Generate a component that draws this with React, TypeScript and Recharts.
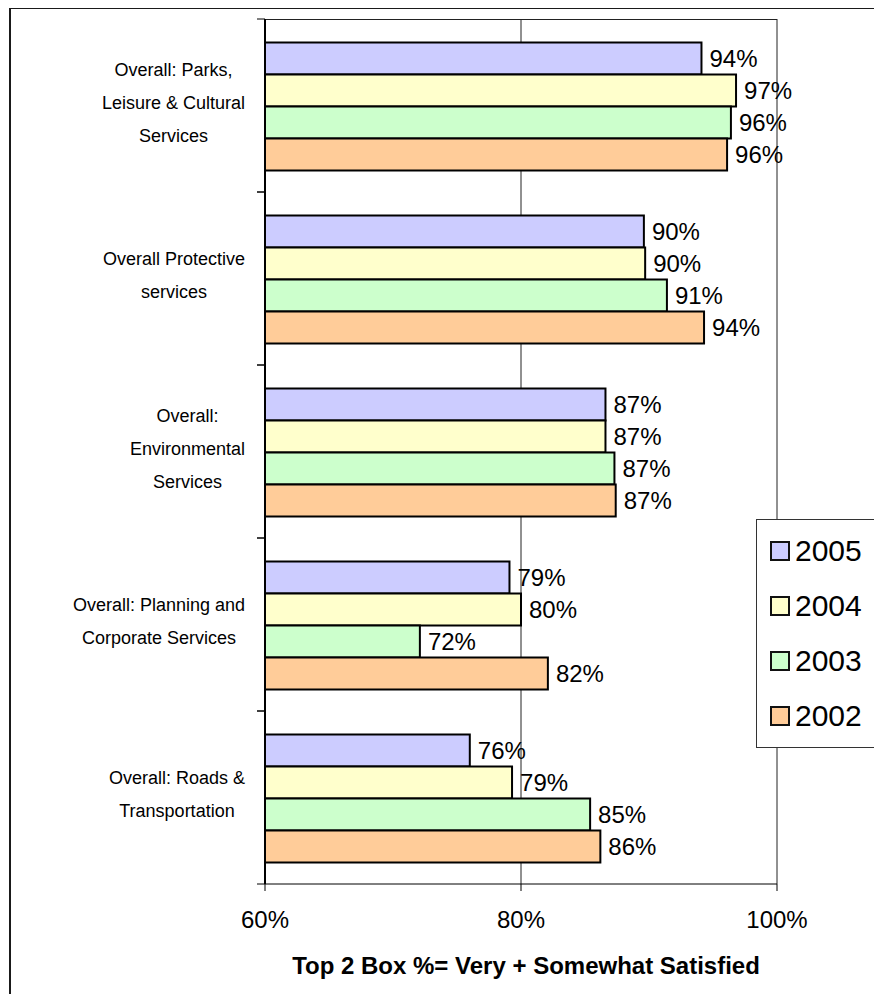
import {
  BarChart,
  Bar,
  XAxis,
  YAxis,
  CartesianGrid,
  LabelList,
  Label,
} from "recharts";

const categories = [
  "Overall: Parks, Leisure & Cultural Services",
  "Overall Protective services",
  "Overall: Environmental Services",
  "Overall: Planning and Corporate Services",
  "Overall: Roads & Transportation",
];

const labelLines = [
  ["Overall: Parks,", "Leisure & Cultural", "Services"],
  ["Overall Protective", "services"],
  ["Overall:", "Environmental", "Services"],
  ["Overall: Planning and", "Corporate Services"],
  ["Overall: Roads &", "Transportation"],
];

const years = ["2005", "2004", "2003", "2002"];

const v2005 = [94.1, 89.6, 86.6, 79.1, 76.0];
const v2004 = [96.8, 89.7, 86.6, 80.0, 79.3];
const v2003 = [96.4, 91.4, 87.3, 72.1, 85.4];
const v2002 = [96.1, 94.3, 87.4, 82.1, 86.2];

const xTicks = [60, 80, 100];

const colors = ["#CCCCFF", "#FFFFCC", "#CCFFCC", "#FFCC99"];
const FONT = "'Liberation Sans', Arial, sans-serif";

const data = categories.map((name, i) => ({
  name,
  y2005: v2005[i],
  y2004: v2004[i],
  y2003: v2003[i],
  y2002: v2002[i],
}));

let ctx: CanvasRenderingContext2D | null = null;
const measure = (s: string, font: string) => {
  if (!ctx) ctx = document.createElement("canvas").getContext("2d");
  if (!ctx) return s.length * 9;
  ctx.font = font;
  return ctx.measureText(s).width;
};

const CategoryTick = ({ x, y, payload }: any) => {
  const idx = categories.indexOf(payload?.value);
  const lines = labelLines[idx] || [String(payload?.value)];
  const maxW = Math.max(...lines.map((l) => measure(l, `18px ${FONT}`)));
  const cx = x - maxW / 2;
  const half = 173 / 2;
  return (
    <g>
      <line x1={x + 12} x2={x + 20} y1={y - half} y2={y - half} stroke="#000" />
      <line x1={x + 12} x2={x + 20} y1={y + half} y2={y + half} stroke="#000" />
      {lines.map((l, i) => (
        <text
          key={i}
          x={cx}
          y={y - 3 + (i - (lines.length - 1) / 2) * 33}
          dy="0.35em"
          textAnchor="middle"
          fontSize={18}
          fontFamily={FONT}
          fill="#000"
        >
          {l}
        </text>
      ))}
    </g>
  );
};

const fmt = (v: any) => `${Math.round(Number(v))}%`;

export default function App() {
  return (
    <div
      style={{
        position: "relative",
        margin: "-8px -8px 0 -8px",
        height: 994,
        fontFamily: FONT,
      }}
    >
      {/* outer frame, only its top and left edges fall inside the picture */}
      <div
        style={{
          position: "absolute",
          left: 9,
          top: 7,
          width: 873,
          height: 987,
          boxSizing: "border-box",
          borderLeft: "2px solid #1a1a1a",
          borderTop: "2px solid #1a1a1a",
        }}
      />
      <div style={{ position: "absolute", left: 11, top: 9 }}>
        <BarChart
          layout="vertical"
          width={871}
          height={983}
          data={data}
          margin={{ top: 10, right: 105, left: 0, bottom: 8 }}
          barCategoryGap={23.5}
          barGap={0}
        >
          {/* top edge of the plot box plus the 80% / 100% gridlines */}
          <CartesianGrid horizontalPoints={[10.5]} stroke="#222" />
          <XAxis
            type="number"
            domain={[60, 100]}
            ticks={xTicks}
            allowDataOverflow
            height={100}
            tickFormatter={(v) => `${v}%`}
            axisLine={{ stroke: "#000" }}
            tickLine={{ stroke: "#000" }}
            tickSize={7}
            tickMargin={20}
            tick={{ fontSize: 24, fill: "#000", fontFamily: FONT }}
          >
            <Label
              value="Top 2 Box %= Very + Somewhat Satisfied"
              position="insideBottom"
              offset={10}
              dx={5}
              style={{ fontWeight: "bold", fontSize: 24, fill: "#000", fontFamily: FONT }}
            />
          </XAxis>
          <YAxis
            type="category"
            dataKey="name"
            width={254}
            interval={0}
            tickLine={false}
            tickSize={0}
            tickMargin={20}
            axisLine={{ stroke: "#000", strokeWidth: 2 }}
            tick={<CategoryTick />}
          />
          {years.map((yr, i) => (
            <Bar
              key={yr}
              dataKey={`y${yr}`}
              name={yr}
              fill={colors[i]}
              stroke="#000"
              strokeWidth={2}
              isAnimationActive={false}
            >
              <LabelList
                dataKey={`y${yr}`}
                position="right"
                offset={8}
                formatter={fmt}
                fill="#000"
                fontSize={24}
                fontFamily={FONT}
              />
            </Bar>
          ))}
        </BarChart>
      </div>
      <div
        style={{
          position: "absolute",
          left: 756,
          top: 519,
          width: 122,
          height: 229,
          boxSizing: "border-box",
          border: "1px solid #333",
          background: "#fff",
          padding: "3px 0 0 13px",
        }}
      >
        {years.map((yr, i) => (
          <div
            key={yr}
            style={{ display: "flex", alignItems: "center", height: 55 }}
          >
            <span
              style={{
                display: "inline-block",
                width: 20,
                height: 20,
                boxSizing: "border-box",
                border: "2px solid #111",
                background: colors[i],
                marginRight: 5,
              }}
            />
            <span style={{ fontSize: 30, color: "#000", lineHeight: "30px" }}>{yr}</span>
          </div>
        ))}
      </div>
    </div>
  );
}
